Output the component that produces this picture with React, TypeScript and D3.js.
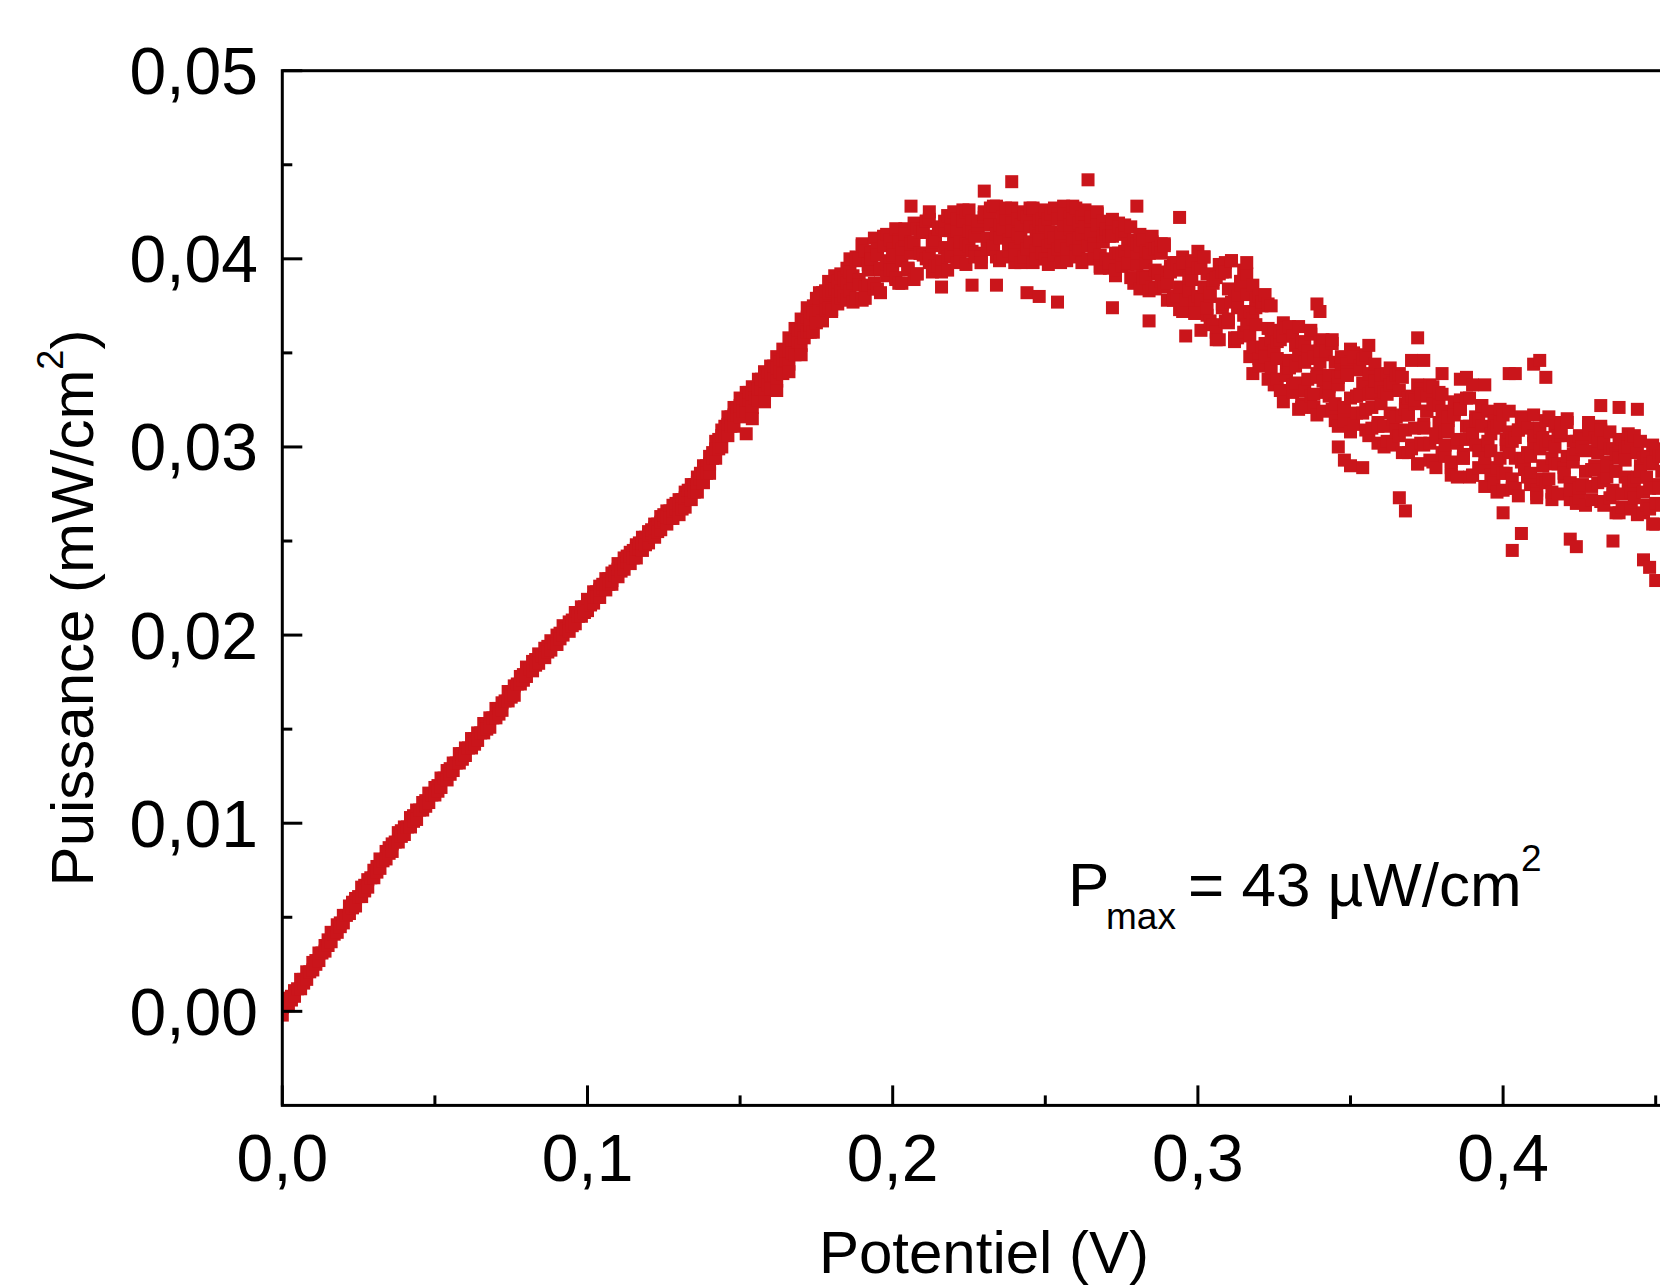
import React from 'react';
import * as d3 from 'd3';

// Axis ticks
const xTickValues = [0, 0.1, 0.2, 0.3, 0.4];
const xTickLabels = ['0,0', '0,1', '0,2', '0,3', '0,4'];
const xMinorTicks = [0.05, 0.15, 0.25, 0.35, 0.45];
const yTickValues = [0, 0.01, 0.02, 0.03, 0.04, 0.05];
const yTickLabels = ['0,00', '0,01', '0,02', '0,03', '0,04', '0,05'];
const yMinorTicks = [0.005, 0.015, 0.025, 0.035, 0.045];

// Each row: [potential (V), power readings (mW/cm2) ...]
const riseSeries: number[][] = [
  [0.000, 0.0002, -0.0002], [0.001, 0.0003], [0.002, 0.0007, 0.0003], [0.003, 0.0008, 0.0006],
  [0.004, 0.0011, 0.0008], [0.005, 0.0012], [0.006, 0.0017, 0.0012], [0.007, 0.0017, 0.0015],
  [0.008, 0.0021, 0.0017], [0.009, 0.0021], [0.010, 0.0026, 0.0022], [0.011, 0.0027, 0.0025],
  [0.012, 0.0031, 0.0027], [0.013, 0.0031], [0.014, 0.0035, 0.0032], [0.015, 0.0038, 0.0035],
  [0.016, 0.0042, 0.0037], [0.017, 0.0041], [0.018, 0.0046, 0.0042], [0.019, 0.0047, 0.0045],
  [0.020, 0.0051, 0.0047], [0.021, 0.0051], [0.022, 0.0056, 0.0052], [0.023, 0.0058, 0.0055],
  [0.024, 0.0060, 0.0056], [0.025, 0.0061], [0.026, 0.0066, 0.0061], [0.027, 0.0067, 0.0064],
  [0.028, 0.0070, 0.0066], [0.029, 0.0071], [0.030, 0.0075, 0.0071], [0.031, 0.0077, 0.0074],
  [0.032, 0.0081, 0.0076], [0.033, 0.0080], [0.034, 0.0085, 0.0081], [0.035, 0.0087, 0.0084],
  [0.036, 0.0089, 0.0085], [0.037, 0.0090], [0.038, 0.0095, 0.0090], [0.039, 0.0096, 0.0093],
  [0.040, 0.0098, 0.0094], [0.041, 0.0098], [0.042, 0.0103, 0.0098], [0.043, 0.0104, 0.0101],
  [0.044, 0.0107, 0.0102], [0.045, 0.0107], [0.046, 0.0111, 0.0107], [0.047, 0.0112, 0.0109],
  [0.048, 0.0116, 0.0111], [0.049, 0.0115], [0.050, 0.0119, 0.0115], [0.051, 0.0120, 0.0117],
  [0.052, 0.0124, 0.0119], [0.053, 0.0124], [0.054, 0.0128, 0.0123], [0.055, 0.0129, 0.0126],
  [0.056, 0.0132, 0.0128], [0.057, 0.0132], [0.058, 0.0137, 0.0132], [0.059, 0.0137, 0.0134],
  [0.060, 0.0140, 0.0136], [0.061, 0.0140], [0.062, 0.0145, 0.0140], [0.063, 0.0145, 0.0142],
  [0.064, 0.0148, 0.0144], [0.065, 0.0148], [0.066, 0.0153, 0.0148], [0.067, 0.0153, 0.0150],
  [0.068, 0.0156, 0.0151], [0.069, 0.0156], [0.070, 0.0161, 0.0156], [0.071, 0.0161, 0.0158],
  [0.072, 0.0164, 0.0160], [0.073, 0.0165], [0.074, 0.0170, 0.0165], [0.075, 0.0170, 0.0167],
  [0.076, 0.0173, 0.0168], [0.077, 0.0174], [0.078, 0.0178, 0.0174], [0.079, 0.0179, 0.0176],
  [0.080, 0.0183, 0.0178], [0.081, 0.0182], [0.082, 0.0186, 0.0181], [0.083, 0.0187, 0.0184],
  [0.084, 0.0190, 0.0185], [0.085, 0.0189], [0.086, 0.0193, 0.0188], [0.087, 0.0194, 0.0191],
  [0.088, 0.0197, 0.0192], [0.089, 0.0196], [0.090, 0.0200, 0.0195], [0.091, 0.0201, 0.0198],
  [0.092, 0.0205, 0.0200], [0.093, 0.0203], [0.094, 0.0207, 0.0202], [0.095, 0.0208, 0.0205],
  [0.096, 0.0212, 0.0206], [0.097, 0.0210], [0.098, 0.0215, 0.0210], [0.099, 0.0215, 0.0212],
  [0.100, 0.0219, 0.0213], [0.101, 0.0218, 0.0216],
  [0.102, 0.0223, 0.0217, 0.0220], [0.103, 0.0223, 0.0220], [0.104, 0.0226, 0.0220, 0.0224], [0.105, 0.0225, 0.0227],
  [0.106, 0.0230, 0.0224, 0.0227], [0.107, 0.0230, 0.0227], [0.108, 0.0233, 0.0227, 0.0229], [0.109, 0.0232, 0.0234],
  [0.110, 0.0238, 0.0231, 0.0235], [0.111, 0.0237, 0.0234], [0.112, 0.0241, 0.0235, 0.0238], [0.113, 0.0239, 0.0242],
  [0.114, 0.0244, 0.0238, 0.0242], [0.115, 0.0245, 0.0241], [0.116, 0.0248, 0.0241, 0.0246], [0.117, 0.0246, 0.0249],
  [0.118, 0.0252, 0.0245, 0.0249], [0.119, 0.0252, 0.0248], [0.120, 0.0255, 0.0249, 0.0253], [0.121, 0.0254, 0.0256],
  [0.122, 0.0259, 0.0252, 0.0257], [0.123, 0.0259, 0.0255], [0.124, 0.0263, 0.0256, 0.0260], [0.125, 0.0261, 0.0264],
  [0.126, 0.0266, 0.0259, 0.0263], [0.127, 0.0266, 0.0262], [0.128, 0.0269, 0.0262, 0.0266], [0.129, 0.0267, 0.0270],
  [0.130, 0.0272, 0.0264, 0.0269], [0.131, 0.0272, 0.0267], [0.132, 0.0276, 0.0268, 0.0273], [0.133, 0.0274, 0.0277],
  [0.134, 0.0280, 0.0272, 0.0277], [0.135, 0.0280, 0.0276], [0.136, 0.0284, 0.0276, 0.0281], [0.137, 0.0283, 0.0286],
  [0.138, 0.0290, 0.0281, 0.0286], [0.139, 0.0290, 0.0286], [0.140, 0.0295, 0.0286, 0.0291], [0.141, 0.0294, 0.0297],
  [0.142, 0.0303, 0.0294, 0.0299], [0.143, 0.0304, 0.0299], [0.144, 0.0309, 0.0300, 0.0306], [0.145, 0.0307, 0.0311],
  [0.146, 0.0316, 0.0306, 0.0312], [0.147, 0.0316, 0.0311], [0.148, 0.0321, 0.0311, 0.0317], [0.149, 0.0317, 0.0321],
  [0.150, 0.0326, 0.0316, 0.0322], [0.151, 0.0325, 0.0319], [0.152, 0.0329, 0.0319, 0.0325, 0.0307], [0.153, 0.0325, 0.0329],
  [0.154, 0.0332, 0.0321, 0.0328, 0.0315], [0.155, 0.0331, 0.0326], [0.156, 0.0336, 0.0325, 0.0331], [0.157, 0.0331, 0.0336],
  [0.158, 0.0340, 0.0328, 0.0335, 0.0324], [0.159, 0.0338, 0.0333], [0.160, 0.0343, 0.0331, 0.0338], [0.161, 0.0338, 0.0343],
  [0.162, 0.0348, 0.0335, 0.0342, 0.0330], [0.163, 0.0345, 0.0340], [0.164, 0.0352, 0.0339, 0.0346], [0.165, 0.0346, 0.0351],
  [0.166, 0.0358, 0.0344, 0.0351, 0.0340], [0.167, 0.0356, 0.0350], [0.168, 0.0363, 0.0349, 0.0357], [0.169, 0.0356, 0.0362],
  [0.170, 0.0368, 0.0354, 0.0362, 0.0349], [0.171, 0.0366, 0.0358],
];

const peakSeries: number[][] = [
  [0.172, 0.0369, 0.0361, 0.0374], [0.173, 0.0361, 0.0372, 0.0365], [0.174, 0.0375, 0.0361, 0.0371],
  [0.175, 0.0370, 0.0379, 0.0366], [0.176, 0.0382, 0.0373, 0.0379], [0.177, 0.0371, 0.0382, 0.0367],
  [0.178, 0.0377, 0.0373, 0.0383], [0.179, 0.0382, 0.0388, 0.0374], [0.180, 0.0373, 0.0372, 0.0383],
  [0.181, 0.0387, 0.0384, 0.0391], [0.182, 0.0381, 0.0388, 0.0376], [0.183, 0.0392, 0.0379, 0.0383],
  [0.184, 0.0380, 0.0389, 0.0390], [0.185, 0.0387, 0.0378, 0.0395],
  [0.186, 0.0393, 0.0400, 0.0383], [0.187, 0.0377, 0.0387, 0.0391], [0.188, 0.0399, 0.0401, 0.0379],
  [0.189, 0.0389, 0.0386, 0.0400], [0.190, 0.0407, 0.0408, 0.0378], [0.191, 0.0385, 0.0379, 0.0404],
  [0.192, 0.0394, 0.0397, 0.0386], [0.193, 0.0400, 0.0403, 0.0400], [0.194, 0.0384, 0.0387, 0.0411],
  [0.195, 0.0405, 0.0402, 0.0384], [0.196, 0.0394, 0.0382, 0.0395], [0.197, 0.0412, 0.0410, 0.0407],
  [0.198, 0.0391, 0.0397, 0.0413], [0.199, 0.0399, 0.0410, 0.0394], [0.200, 0.0405, 0.0394, 0.0402],
  [0.201, 0.0389, 0.0416, 0.0390], [0.202, 0.0410, 0.0387, 0.0409], [0.203, 0.0399, 0.0405, 0.0387],
  [0.204, 0.0416, 0.0410, 0.0413], [0.205, 0.0395, 0.0394, 0.0395], [0.206, 0.0403, 0.0409, 0.0408, 0.0428],
  [0.207, 0.0409, 0.0389, 0.0419], [0.208, 0.0392, 0.0416, 0.0392], [0.209, 0.0414, 0.0403, 0.0403],
  [0.210, 0.0402, 0.0416, 0.0414], [0.211, 0.0420, 0.0400, 0.0420], [0.212, 0.0398, 0.0421, 0.0401, 0.0425],
  [0.213, 0.0407, 0.0393, 0.0409], [0.214, 0.0412, 0.0410, 0.0396], [0.215, 0.0396, 0.0416, 0.0416],
  [0.216, 0.0417, 0.0399, 0.0393, 0.0385], [0.217, 0.0406, 0.0415, 0.0420], [0.218, 0.0423, 0.0394, 0.0401],
  [0.219, 0.0402, 0.0422, 0.0415], [0.220, 0.0410, 0.0408, 0.0425], [0.221, 0.0415, 0.0421, 0.0398],
  [0.222, 0.0399, 0.0405, 0.0409], [0.223, 0.0420, 0.0426, 0.0420], [0.224, 0.0408, 0.0397, 0.0425],
  [0.225, 0.0426, 0.0415, 0.0407], [0.226, 0.0404, 0.0420, 0.0414, 0.0386], [0.227, 0.0412, 0.0403, 0.0401],
  [0.228, 0.0417, 0.0418, 0.0420], [0.229, 0.0401, 0.0398, 0.0398], [0.230, 0.0422, 0.0425, 0.0424, 0.0436],
  [0.231, 0.0410, 0.0411, 0.0405], [0.232, 0.0427, 0.0424, 0.0418], [0.233, 0.0405, 0.0407, 0.0428],
  [0.234, 0.0413, 0.0428, 0.0401, 0.0386], [0.235, 0.0418, 0.0399, 0.0411], [0.236, 0.0401, 0.0416, 0.0422],
  [0.237, 0.0422, 0.0421, 0.0427], [0.238, 0.0410, 0.0404, 0.0408], [0.239, 0.0427, 0.0419, 0.0415, 0.0441],
  [0.240, 0.0405, 0.0398, 0.0402], [0.241, 0.0413, 0.0425, 0.0421], [0.242, 0.0418, 0.0411, 0.0398],
  [0.243, 0.0401, 0.0424, 0.0424], [0.244, 0.0422, 0.0407, 0.0405, 0.0382], [0.245, 0.0409, 0.0427, 0.0417],
  [0.246, 0.0426, 0.0398, 0.0427], [0.247, 0.0404, 0.0415, 0.0400], [0.248, 0.0412, 0.0420, 0.0410, 0.0380],
  [0.249, 0.0417, 0.0403, 0.0421], [0.250, 0.0400, 0.0418, 0.0426], [0.251, 0.0421, 0.0397, 0.0407],
  [0.252, 0.0409, 0.0424, 0.0414], [0.253, 0.0427, 0.0411, 0.0402], [0.254, 0.0405, 0.0424, 0.0421, 0.0377],
  [0.255, 0.0413, 0.0407, 0.0398], [0.256, 0.0418, 0.0428, 0.0424], [0.257, 0.0401, 0.0399, 0.0405],
  [0.258, 0.0422, 0.0416, 0.0418], [0.259, 0.0410, 0.0421, 0.0428], [0.260, 0.0427, 0.0404, 0.0401],
  [0.261, 0.0405, 0.0419, 0.0411], [0.262, 0.0413, 0.0398, 0.0422], [0.263, 0.0417, 0.0424, 0.0426],
  [0.264, 0.0400, 0.0410, 0.0407, 0.0442], [0.265, 0.0420, 0.0422, 0.0413], [0.266, 0.0408, 0.0405, 0.0400],
  [0.267, 0.0424, 0.0425, 0.0418], [0.268, 0.0402, 0.0396, 0.0395], [0.269, 0.0409, 0.0412, 0.0420],
  [0.270, 0.0413, 0.0416, 0.0400], [0.271, 0.0395, 0.0398, 0.0412], [0.272, 0.0415, 0.0412, 0.0421, 0.0374],
  [0.273, 0.0403, 0.0391, 0.0394], [0.274, 0.0419, 0.0417, 0.0403], [0.275, 0.0396, 0.0402, 0.0413],
  [0.276, 0.0404, 0.0415, 0.0418], [0.277, 0.0408, 0.0397, 0.0398], [0.278, 0.0390, 0.0417, 0.0404],
  [0.279, 0.0410, 0.0387, 0.0390], [0.280, 0.0397, 0.0403, 0.0408, 0.0428], [0.281, 0.0413, 0.0407, 0.0384],
  [0.282, 0.0391, 0.0390, 0.0410], [0.283, 0.0398, 0.0404, 0.0390], [0.284, 0.0403, 0.0383, 0.0403, 0.0367],
  [0.285, 0.0385, 0.0409, 0.0412], [0.286, 0.0405, 0.0394, 0.0384], [0.287, 0.0392, 0.0406, 0.0393],
  [0.288, 0.0408, 0.0388, 0.0403], [0.289, 0.0385, 0.0408, 0.0407], [0.290, 0.0392, 0.0378, 0.0387],
  [0.291, 0.0396, 0.0394, 0.0393], [0.292, 0.0378, 0.0398, 0.0379], [0.293, 0.0398, 0.0380, 0.0397],
  [0.294, 0.0385, 0.0394, 0.0373, 0.0422], [0.295, 0.0401, 0.0372, 0.0398], [0.296, 0.0378, 0.0398, 0.0378, 0.0359],
  [0.297, 0.0385, 0.0383, 0.0390], [0.298, 0.0389, 0.0395, 0.0399], [0.299, 0.0371, 0.0377, 0.0371],
];

const tailSeries: number[][] = [
  [0.300, 0.0395, 0.0404, 0.0380], [0.301, 0.0378, 0.0362, 0.0395], [0.302, 0.0401, 0.0385, 0.0401],
  [0.303, 0.0370, 0.0392, 0.0374], [0.304, 0.0380, 0.0367, 0.0382], [0.305, 0.0387, 0.0389, 0.0365],
  [0.306, 0.0361, 0.0357, 0.0390], [0.307, 0.0392, 0.0397, 0.0357], [0.308, 0.0374, 0.0376, 0.0393],
  [0.309, 0.0398, 0.0393, 0.0367], [0.310, 0.0366, 0.0368, 0.0384], [0.311, 0.0377, 0.0399, 0.0399],
  [0.312, 0.0383, 0.0356, 0.0358], [0.313, 0.0358, 0.0380, 0.0374], [0.314, 0.0388, 0.0386, 0.0388],
  [0.315, 0.0370, 0.0361, 0.0394], [0.316, 0.0392, 0.0381, 0.0365, 0.0398], [0.317, 0.0359, 0.0348, 0.0372],
  [0.318, 0.0368, 0.0386, 0.0353, 0.0339], [0.319, 0.0374, 0.0365, 0.0378], [0.320, 0.0347, 0.0380, 0.0343],
  [0.321, 0.0375, 0.0353, 0.0377], [0.322, 0.0355, 0.0381, 0.0348], [0.323, 0.0376, 0.0336, 0.0363],
  [0.324, 0.0342, 0.0357, 0.0375], [0.325, 0.0351, 0.0362, 0.0333], [0.326, 0.0356, 0.0336, 0.0347],
  [0.327, 0.0330, 0.0357, 0.0361], [0.328, 0.0359, 0.0324, 0.0366], [0.329, 0.0341, 0.0363, 0.0338],
  [0.330, 0.0364, 0.0342, 0.0346], [0.331, 0.0333, 0.0359, 0.0329], [0.332, 0.0343, 0.0334, 0.0354],
  [0.333, 0.0349, 0.0364, 0.0320], [0.334, 0.0323, 0.0321, 0.0356], [0.335, 0.0354, 0.0345, 0.0330],
  [0.336, 0.0336, 0.0351, 0.0347], [0.337, 0.0360, 0.0327, 0.0362], [0.338, 0.0328, 0.0348, 0.0321],
  [0.339, 0.0339, 0.0317, 0.0337, 0.0376], [0.340, 0.0345, 0.0356, 0.0351, 0.0372], [0.341, 0.0319, 0.0335, 0.0357],
  [0.342, 0.0349, 0.0351, 0.0329], [0.343, 0.0332, 0.0327, 0.0338], [0.344, 0.0355, 0.0357, 0.0320],
  [0.345, 0.0323, 0.0314, 0.0345], [0.346, 0.0333, 0.0337, 0.0311, 0.0300], [0.347, 0.0340, 0.0344, 0.0348],
  [0.348, 0.0314, 0.0319, 0.0321, 0.0293], [0.349, 0.0344, 0.0340, 0.0338], [0.350, 0.0326, 0.0308, 0.0352, 0.0290],
  [0.351, 0.0350, 0.0348, 0.0312], [0.352, 0.0318, 0.0327, 0.0327], [0.353, 0.0328, 0.0343, 0.0341],
  [0.354, 0.0334, 0.0318, 0.0347, 0.0289], [0.355, 0.0309, 0.0349, 0.0320], [0.356, 0.0339, 0.0306, 0.0328, 0.0354],
  [0.357, 0.0321, 0.0329, 0.0310], [0.358, 0.0344, 0.0335, 0.0335], [0.359, 0.0313, 0.0311, 0.0302],
  [0.360, 0.0323, 0.0332, 0.0338], [0.361, 0.0329, 0.0300, 0.0311], [0.362, 0.0303, 0.0339, 0.0328],
  [0.363, 0.0333, 0.0318, 0.0342], [0.364, 0.0315, 0.0334, 0.0301], [0.365, 0.0338, 0.0309, 0.0316],
  [0.366, 0.0306, 0.0339, 0.0330, 0.0273], [0.367, 0.0317, 0.0297, 0.0337], [0.368, 0.0323, 0.0320, 0.0309, 0.0266],
  [0.369, 0.0297, 0.0326, 0.0317], [0.370, 0.0327, 0.0301, 0.0299, 0.0346], [0.371, 0.0310, 0.0323, 0.0325],
  [0.372, 0.0333, 0.0291, 0.0291, 0.0358], [0.373, 0.0302, 0.0331, 0.0328], [0.374, 0.0312, 0.0310, 0.0301, 0.0346],
  [0.375, 0.0319, 0.0327, 0.0319], [0.376, 0.0293, 0.0302, 0.0333], [0.377, 0.0323, 0.0332, 0.0292],
  [0.378, 0.0305, 0.0289, 0.0307], [0.379, 0.0329, 0.0313, 0.0322], [0.380, 0.0297, 0.0319, 0.0328, 0.0339],
  [0.381, 0.0308, 0.0295, 0.0301], [0.382, 0.0314, 0.0316, 0.0309], [0.383, 0.0289, 0.0285, 0.0292],
  [0.384, 0.0319, 0.0324, 0.0317], [0.385, 0.0302, 0.0304, 0.0284], [0.386, 0.0325, 0.0320, 0.0320, 0.0336],
  [0.387, 0.0294, 0.0296, 0.0294], [0.388, 0.0304, 0.0326, 0.0311, 0.0337], [0.389, 0.0311, 0.0284, 0.0326],
  [0.390, 0.0285, 0.0307, 0.0285, 0.0333], [0.391, 0.0316, 0.0314, 0.0301], [0.392, 0.0298, 0.0289, 0.0315],
  [0.393, 0.0322, 0.0311, 0.0322], [0.394, 0.0290, 0.0279, 0.0294, 0.0333], [0.395, 0.0301, 0.0319, 0.0303],
  [0.396, 0.0307, 0.0298, 0.0285], [0.397, 0.0281, 0.0314, 0.0310], [0.398, 0.0311, 0.0289, 0.0276],
  [0.399, 0.0294, 0.0320, 0.0313], [0.400, 0.0317, 0.0277, 0.0286, 0.0265], [0.401, 0.0286, 0.0301, 0.0304],
  [0.402, 0.0297, 0.0308, 0.0319, 0.0339], [0.403, 0.0303, 0.0283, 0.0278, 0.0245], [0.404, 0.0278, 0.0305, 0.0294, 0.0339],
  [0.405, 0.0309, 0.0274, 0.0309], [0.406, 0.0292, 0.0314, 0.0316, 0.0254], [0.407, 0.0315, 0.0293, 0.0288],
  [0.408, 0.0284, 0.0310, 0.0297], [0.409, 0.0295, 0.0286, 0.0280], [0.410, 0.0302, 0.0317, 0.0306, 0.0344],
  [0.411, 0.0277, 0.0275, 0.0273], [0.412, 0.0308, 0.0299, 0.0310, 0.0346], [0.413, 0.0290, 0.0305, 0.0283],
  [0.414, 0.0314, 0.0281, 0.0301, 0.0337], [0.415, 0.0283, 0.0303, 0.0316], [0.416, 0.0294, 0.0272, 0.0276],
  [0.417, 0.0300, 0.0311, 0.0291], [0.418, 0.0275, 0.0291, 0.0306], [0.419, 0.0306, 0.0308, 0.0313],
  [0.420, 0.0289, 0.0284, 0.0286], [0.421, 0.0313, 0.0315, 0.0295], [0.422, 0.0281, 0.0272, 0.0277, 0.0251],
  [0.423, 0.0292, 0.0296, 0.0303], [0.424, 0.0299, 0.0303, 0.0270, 0.0247], [0.425, 0.0273, 0.0278, 0.0306],
  [0.426, 0.0304, 0.0300, 0.0280], [0.427, 0.0287, 0.0269, 0.0298], [0.428, 0.0311, 0.0309, 0.0313],
  [0.429, 0.0279, 0.0288, 0.0272], [0.430, 0.0290, 0.0305, 0.0288], [0.431, 0.0297, 0.0281, 0.0303],
  [0.432, 0.0271, 0.0311, 0.0309, 0.0322], [0.433, 0.0302, 0.0269, 0.0282], [0.434, 0.0284, 0.0292, 0.0290],
  [0.435, 0.0308, 0.0299, 0.0273], [0.436, 0.0277, 0.0275, 0.0299, 0.0250], [0.437, 0.0287, 0.0296, 0.0265],
  [0.438, 0.0294, 0.0265, 0.0302, 0.0321], [0.439, 0.0268, 0.0304, 0.0275], [0.440, 0.0299, 0.0284, 0.0293],
  [0.441, 0.0281, 0.0300, 0.0307], [0.442, 0.0305, 0.0276, 0.0267], [0.443, 0.0273, 0.0306, 0.0282],
  [0.444, 0.0284, 0.0264, 0.0297, 0.0320], [0.445, 0.0290, 0.0287, 0.0303], [0.446, 0.0265, 0.0294, 0.0276, 0.0240],
  [0.447, 0.0295, 0.0269, 0.0284], [0.448, 0.0278, 0.0291, 0.0267, 0.0236], [0.449, 0.0301, 0.0259, 0.0292],
  [0.450, 0.0270, 0.0299, 0.0259, 0.0229], [0.451, 0.0280, 0.0278, 0.0295], [0.452, 0.0287, 0.0295, 0.0269],
];

const FONT = '"Liberation Sans", Arial, Helvetica, sans-serif';
const RED = '#CA151B';

export default function App() {
  React.useEffect(() => {
    document.body.style.margin = '0';
    document.body.style.overflow = 'hidden';
  }, []);

  const W = 1660;
  const H = 1288;
  const left = 282.3;
  const top = 70.7;
  const bottom = 1105.4;
  const right = left + 5 * 305.2;

  const x = d3.scaleLinear().domain([0, 0.5]).range([left, right]);
  const y = d3.scaleLinear().domain([-0.005, 0.05]).range([bottom, top]);

  const points = [...riseSeries, ...peakSeries, ...tailSeries].flatMap((row) =>
    row.slice(1).map((v) => [row[0], v] as [number, number])
  );
  const ms = 13;
  const tickFont = 66;

  return (
    <svg
      width={W}
      height={H}
      style={{ position: 'absolute', left: 0, top: 0, background: '#fff' }}
      fontFamily={FONT}
    >
      <defs>
        <clipPath id="plotClip">
          <rect x={left} y={top} width={right - left} height={bottom - top} />
        </clipPath>
      </defs>
      <rect x={0} y={0} width={W} height={H} fill="#fff" />
      <g clipPath="url(#plotClip)">
        {points.map((p, i) => (
          <rect
            key={i}
            x={x(p[0]) - ms / 2}
            y={y(p[1]) - ms / 2}
            width={ms}
            height={ms}
            fill={RED}
          />
        ))}
      </g>
      {/* frame */}
      <rect x={left} y={top} width={right - left} height={bottom - top} fill="none" stroke="#000" strokeWidth={3} />
      {/* x ticks */}
      {xTickValues.map((v) => (
        <line key={'xt' + v} x1={x(v)} x2={x(v)} y1={bottom} y2={bottom - 20} stroke="#000" strokeWidth={3} />
      ))}
      {xMinorTicks.map((v) => (
        <line key={'xm' + v} x1={x(v)} x2={x(v)} y1={bottom} y2={bottom - 10} stroke="#000" strokeWidth={3} />
      ))}
      {xTickValues.map((v, i) => (
        <text key={'xl' + v} x={x(v)} y={1181} fontSize={tickFont} textAnchor="middle" fill="#000">
          {xTickLabels[i]}
        </text>
      ))}
      {/* y ticks */}
      {yTickValues.map((v) => (
        <line key={'yt' + v} x1={left} x2={left + 20} y1={y(v)} y2={y(v)} stroke="#000" strokeWidth={3} />
      ))}
      {yMinorTicks.map((v) => (
        <line key={'ym' + v} x1={left} x2={left + 10} y1={y(v)} y2={y(v)} stroke="#000" strokeWidth={3} />
      ))}
      {yTickValues.map((v, i) => (
        <text key={'yl' + v} x={258} y={y(v) + 23.5} fontSize={tickFont} textAnchor="end" fill="#000">
          {yTickLabels[i]}
        </text>
      ))}
      {/* axis titles */}
      <text x={984} y={1273} fontSize={60} textAnchor="middle" fill="#000">
        Potentiel (V)
      </text>
      <text transform="translate(93,608) rotate(-90)" fontSize={60} textAnchor="middle" fill="#000">
        Puissance (mW/cm<tspan fontSize={36} dy={-30}>2</tspan>
        <tspan dy={30}>)</tspan>
      </text>
      {/* annotation */}
      <text x={1068} y={906} fontSize={62} fill="#000">P</text>
      <text x={1106} y={929} fontSize={37} fill="#000">max</text>
      <text x={1188} y={906} fontSize={62} fill="#000">= 43 µW/cm</text>
      <text x={1521} y={871} fontSize={37} fill="#000">2</text>
    </svg>
  );
}
